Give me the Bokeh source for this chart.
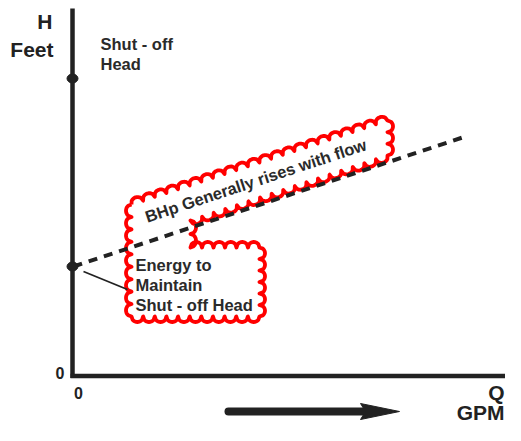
import numpy as np
from bokeh.plotting import figure
from bokeh.models import Range1d
from bokeh.core.properties import value
from bokeh.embed import file_html
from bokeh.resources import INLINE

# ---- chart data (Q along x, H along y; origin of the diagram at 0,0) ----
shutoff_q = [0]
shutoff_h = [297]            # shut-off head point on the H axis
bhp_q = [0, 389]             # BHp line (dashed) from Q=0 ...
bhp_h = [109, 238]           # ... rising with flow
bhp_label = "BHp Generally rises with flow"
shutoff_label = ["Shut - off", "Head"]
energy_label = ["Energy to", "Maintain", "Shut - off Head"]
y_title = ["H", "Feet"]
x_title = ["Q", "GPM"]
zero_labels = ["0", "0"]

# ---- layout ----
W, H = 505, 425
p = figure(width=W, height=H, output_backend="svg", toolbar_location=None,
           x_range=Range1d(-73, 432), y_range=Range1d(-50, 375),
           x_axis_type=None, y_axis_type=None, min_border=0)
p.outline_line_color = None
p.background_fill_color = "white"
p.border_fill_color = "white"
p.grid.visible = False

INK = "#222222"
FONT = value("Liberation Sans")

# red scalloped callout (outline of cusps, clockwise)
callout = [(58, 171), (314, 255), (314, 220), (117, 155), (117, 128),
           (186, 128), (186, 59), (58, 59)]

def scallop_path(pts, chord=12.0, bump=5.5, per=10):
    pts = np.array(pts, dtype=float)
    n = len(pts)
    area = 0.5 * sum(pts[i, 0] * pts[(i + 1) % n, 1] - pts[(i + 1) % n, 0] * pts[i, 1] for i in range(n))
    sign = -1.0 if area > 0 else 1.0
    xs, ys = [], []
    for i in range(n):
        a = pts[i]
        b = pts[(i + 1) % n]
        d = b - a
        L = np.hypot(*d)
        u = d / L
        nrm = sign * np.array([-u[1], u[0]])
        k = max(1, int(round(L / chord)))
        for j in range(k):
            t = np.linspace(0, 1, per + 1)
            s = (j + t) / k
            w = 2 * t - 1
            off = bump * np.sqrt(np.clip(1 - w * w, 0, 1))
            px = a[0] + d[0] * s + nrm[0] * off
            py = a[1] + d[1] * s + nrm[1] * off
            xs.extend(px.tolist())
            ys.extend(py.tolist())
    xs.append(xs[0]); ys.append(ys[0])
    return xs, ys

cx, cy = scallop_path(callout)
p.line(cx, cy, line_color="#ff0000", line_width=3.8, line_join="round")

# axes
p.line([-1, -1], [367, -2.5], line_color=INK, line_width=4.5)
p.line([-3, 450], [-0.5, -0.5], line_color=INK, line_width=4.5)

# BHp dashed line
p.line(bhp_q, bhp_h, line_color=INK, line_width=4, line_dash="9 7")

# points on H axis
p.ellipse([-1, -1], [shutoff_h[0], bhp_h[0]], width=11, height=9,
          fill_color=INK, line_color=INK)

# leader line from callout to point
p.line([54, 10], [86, 104], line_color=INK, line_width=1.8)

# bottom arrow
p.line([155, 292], [-36, -36], line_color=INK, line_width=8, line_cap="round")
p.patch([287, 326, 287, 292], [-28, -36, -44, -36], fill_color=INK, line_color=INK)

# texts
BIG = dict(text_font=FONT, text_font_style="bold", text_font_size="21px", text_color=INK)
p.text([-21], [343], text=[y_title[0]], text_align="right", **BIG)
p.text([-20], [315], text=[y_title[1]], text_align="right", **BIG)
p.text([431], [-28], text=[x_title[0]], text_align="right", **BIG)
p.text([431], [-48], text=[x_title[1]], text_align="right", **BIG)
p.text([-9], [-3], text=[zero_labels[0]], text_font=FONT, text_font_style="bold",
       text_font_size="16px", text_align="right", text_color=INK)
p.text([5], [-23], text=[zero_labels[1]], text_font=FONT, text_font_style="bold",
       text_font_size="16px", text_align="center", text_color=INK)

BODY = dict(text_font=FONT, text_font_style="bold", text_font_size="16.5px", text_color="#2a2a2a")
p.text([27, 27], [323, 303], text=shutoff_label, **BODY)
p.text([62, 62, 62], [102, 82, 62], text=energy_label, **BODY)
p.text([75], [150], text=[bhp_label], angle=np.arctan2(bhp_h[1] - bhp_h[0], bhp_q[1] - bhp_q[0]), **BODY)

open("out.html", "w").write(file_html(p, INLINE))
